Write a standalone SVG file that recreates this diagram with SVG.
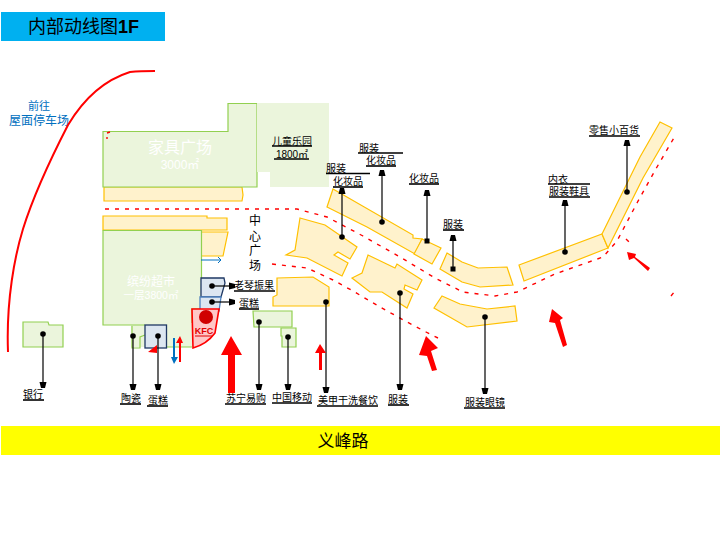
<svg xmlns="http://www.w3.org/2000/svg" width="720" height="540" viewBox="0 0 720 540">
<style>
text{font-family:"Liberation Sans","Noto Sans CJK SC",sans-serif;text-anchor:middle}
.l{font-size:10px;fill:#000}
.w{fill:#fff}
.g{fill:#ebf5dc;stroke:#92d050;stroke-width:1.2}
.y{fill:#fff2cc;stroke:#ffc000;stroke-width:1.2}
.b{fill:#dce6f1;stroke:#1f3864;stroke-width:1.3}
.c{stroke:#000;stroke-width:1.2;fill:none;marker-end:url(#t)}
.o{marker-start:url(#o)}
.s{marker-start:url(#s)}
.u{stroke:#000;stroke-width:1.6;fill:none}
.d{fill:none;stroke:#f00;stroke-width:1.4;stroke-dasharray:4 6}
.r{fill:#f00}
</style>
<defs>
<marker id="t" markerUnits="userSpaceOnUse" markerWidth="10" markerHeight="10" refX="5" refY="5" orient="auto"><path d="M1 1.500L7 3L7 7L1 8.500Z" fill="#000"/></marker>
<marker id="o" markerUnits="userSpaceOnUse" markerWidth="8" markerHeight="8" refX="4" refY="4"><circle cx="4" cy="4" r="2.800" fill="#000"/></marker>
<marker id="s" markerUnits="userSpaceOnUse" markerWidth="8" markerHeight="8" refX="4" refY="4"><rect x="1.500" y="1.500" width="5" height="5" fill="#000"/></marker>
</defs>
<g id="title"><rect x="1" y="12" width="164" height="29" fill="#00b0f0"/><text x="28" y="33" font-size="18" fill="#000" style="text-anchor:start">内部动线图<tspan font-weight="700">1F</tspan></text></g>
<g id="road"><rect x="1" y="426" width="719" height="29" fill="#ff0"/><text x="343" y="447" font-size="17">义峰路</text></g>
<g id="parking-label"><text x="39" y="110" font-size="11" fill="#0070c0">前往</text><text x="39" y="125" font-size="12" fill="#0070c0">屋面停车场</text></g>
<g id="furniture"><path class="y" d="M104 187H242L243 195L242 201H104Z"/><path class="g" d="M103 131.500H228V103.500H257V187H103Z"/><text class="w" x="180" y="153" font-size="16">家具广场</text><text class="w" x="180" y="169" font-size="12">3000㎡</text></g>
<g id="kids"><path d="M257 103H329V187H270V172H257Z" fill="#ebf5dc"/><text class="l" x="292" y="145">儿童乐园</text><text class="l" x="292" y="158">1800㎡</text><path class="u" d="M272 146H312M274 159H309"/></g>
<g id="supermarket"><path class="y" d="M103 216H207V218H227V225L227 230H103Z"/><path class="y" d="M201 232H228L223 256H201Z"/><path d="M131 325H192V347H131Z" fill="#ebf5dc"/><path fill="none" stroke="#92d050" stroke-width="1.200" d="M132 326V348H140V337L145 335M167 347H192"/><path class="g" d="M103 230.500H201.500V309H192V325H103Z" stroke-width="2" fill-opacity="1" stroke-dasharray="none"/><path fill="#ebf5dc" d="M145 323H192V330H145Z"/><text class="w" x="151" y="286" font-size="12">缤纷超市</text><text class="w" x="151" y="299" font-size="10.500">一层3800㎡</text></g>
<g id="bank"><path class="g" d="M23 322H48L49 325H63V347H23Z"/></g>
<g id="cake1"><rect class="b" x="145" y="325" width="21.500" height="23"/></g>
<g id="shop-a"><path class="b" d="M201 278H224L225 283L221 297H201Z"/></g>
<g id="shop-b"><path class="b" d="M200 297H221L219 311H200Z" style="stroke:#4f81bd"/></g>
<g id="kfc"><path d="M192 309H219L215 333Q207 344 193 348Z" fill="#ffc7c7" stroke="#f00" stroke-width="1.600"/><circle cx="206" cy="317" r="7" fill="#d00000"/><text x="204" y="334" font-size="9" font-weight="700" fill="#e00000">KFC</text><path d="M195 336H212" stroke="#e00000"/></g>
<g id="suning"><path class="g" d="M253 311H292V327H254Z"/></g>
<g id="mobile"><path class="g" d="M281 328H296V347H282V336L281 336Z"/></g>
<g id="store1"><path class="y" d="M277 278L313 277L329 287V306H273V297L277 295Z"/></g>
<g id="store2"><path class="y" d="M300 218L325 225L357 247L350 259L338 252L334 255L348 263L342 276L307 258L286 255L295 250Z"/></g>
<g id="store3"><path class="y" d="M368 255L395 268L397 264L422 280L417 290L405 285L404 289L413 294L407 308L382 292H370L352 278L362 273Z"/></g>
<g id="store4"><path class="y" d="M333 189L413 235L413 238L422 239L415 254L367 227L327 207Z"/></g>
<g id="store5"><path class="y" d="M422 239L441 248L432 264L414 254Z"/></g>
<g id="store6"><path class="y" d="M447 253L462 262L478 268L507 267L513 285L480 287L462 282L440 269Z"/></g>
<g id="store7"><path class="y" d="M519 265L602 234L608 248L524 281Z"/></g>
<g id="store8"><path class="y" d="M602 234L640 157L660 122L672 128L643 178L608 248Z"/></g>
<g id="store9"><path class="y" d="M442 296L460 304L487 309L515 306L517 321L467 327L434 308Z"/></g>
<g id="connectors">
<path d="M8 352C6 300 15 255 23 229C33 197 50 160 68 125C80 105 98 82 130 72Q140 71 155 71" fill="none" stroke="#f00" stroke-width="2"/>
<path class="d" d="M105 209H253L297 209L327 217L363 236L400 257L435 278L463 292L495 296L517 292L555 274L603 257L617 241L637 203L657 167L675 136"/>
<path class="d" d="M272 264L307 268L333 280L353 291L380 307L407 322L426 332L438 338"/>
<path class="d" d="M626 239L630 243M671 296L675 291M107 133L110 132M107 137V139"/>
<path class="c o" d="M43 334V386"/>
<path class="c o" d="M133 336V388"/>
<path class="c o" d="M158 336V388"/>
<path class="c o" d="M259 322V388"/>
<path class="c o" d="M288 337V388"/>
<path class="c o" d="M326 302V391"/>
<path class="c o" d="M400 293V388"/>
<path class="c o" d="M485 317V392"/>
<path class="c o" d="M212 286H233"/>
<path class="c o" d="M212 302H233"/>
<path class="c o" d="M342 237V190"/>
<path class="c o" d="M382 222V172"/>
<path class="c s" d="M427 241V192"/>
<path class="c s" d="M453 269V237"/>
<path class="c o" d="M565 252V202"/>
<path class="c o" d="M627 192V142"/>
<path class="r" d="M228 393V355H221L231 336L242 355H235V393Z"/>
<path class="r" d="M319 370V353H315L320 344L326 353H322V370Z"/>
<path class="r" d="M432 371L427 356L419 355L426 336L438 348L431 351L437 370Z"/>
<path class="r" d="M563 347L555 323L549 322L552 309L563 318L560 320L567 345Z"/>
<path class="r" d="M648 271L634 258L629 260L627 252L636 254L635 257L650 268Z"/>
<path class="r" d="M148 352L157 345V353Z"/>
<path class="r" d="M179 362V343H176L180 336L183 343H181V362Z"/>
<path fill="#0070c0" d="M173 338H175V357H178L174 364L171 357H173Z"/>
<path stroke="#0070c0" stroke-width="1" fill="none" d="M201 260H221M218 257L221 260L218 263"/>
</g>
<g id="labels">
<text x="255" y="225" font-size="12">中</text><text x="255" y="241" font-size="12">心</text><text x="255" y="255" font-size="12">广</text><text x="255" y="270" font-size="12">场</text>
<text class="l" x="33" y="398">银行</text><path class="u" d="M23 400H44"/>
<text class="l" x="131" y="402">陶瓷</text><path class="u" d="M120 404H141"/>
<text class="l" x="158" y="404">蛋糕</text><path class="u" d="M147 406H168"/>
<text class="l" x="254" y="289">老琴振果</text><path class="u" d="M234 291H275"/>
<text class="l" x="246" y="402">苏宁易购</text><path class="u" d="M225 404H266"/>
<text class="l" x="292" y="401">中国移动</text><path class="u" d="M272 403H312"/>
<text class="l" x="348" y="404">美甲干洗餐饮</text><path class="u" d="M317 406H378"/>
<text class="l" x="398" y="403">服装</text><path class="u" d="M388 405H409"/>
<text class="l" x="485" y="406">服装眼镜</text><path class="u" d="M464 408H505"/>
<text class="l" x="249" y="307">蛋糕</text><path class="u" d="M239 309H259"/>
<text class="l" x="336" y="172">服装</text><path class="u" d="M326 173.500H370"/>
<text class="l" x="348" y="185">化妆品</text><path class="u" d="M333 187H363"/>
<text class="l" x="369" y="152">服装</text><path class="u" d="M358 153H403"/>
<text class="l" x="381" y="164">化妆品</text><path class="u" d="M366 166H396"/>
<text class="l" x="424" y="182">化妆品</text><path class="u" d="M409 184H439"/>
<text class="l" x="453" y="228">服装</text><path class="u" d="M443 230H464"/>
<text class="l" x="558" y="183">内衣</text><path class="u" d="M548 184H590"/>
<text class="l" x="569" y="195">服装鞋具</text><path class="u" d="M549 197H590"/>
<text class="l" x="614" y="134">零售小百货</text><path class="u" d="M589 136H640"/>
</g>
</svg>
